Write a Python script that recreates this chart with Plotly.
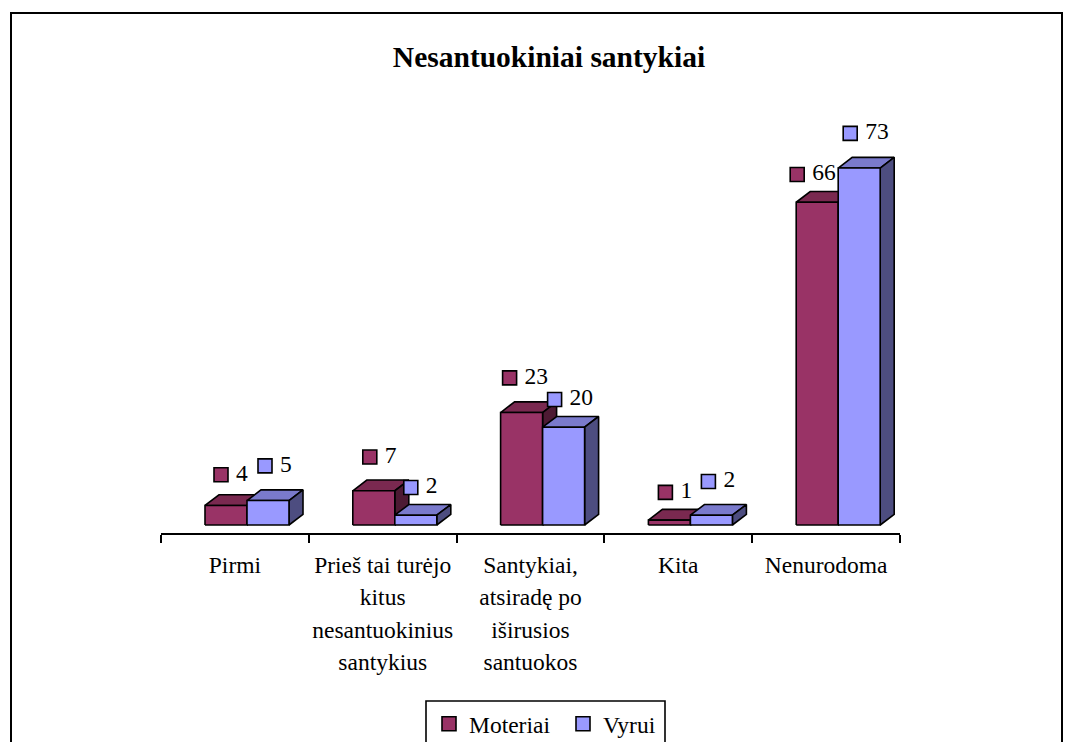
import plotly.graph_objects as go

title = "Nesantuokiniai santykiai"
categories = [
    "Pirmi",
    "Prieš tai turėjo<br>kitus<br>nesantuokinius<br>santykius",
    "Santykiai,<br>atsiradę po<br>iširusios<br>santuokos",
    "Kita",
    "Nenurodoma",
]
moteriai = [4, 7, 23, 1, 66]
vyrui = [5, 2, 20, 2, 73]

# label nudges in pixels, from the bar's left edge / back top edge
moteriai_dx = [16, 17, 9, 17, 1]
moteriai_dy = [20, 23, 24, 17, 17]
vyrui_dx = [18, 16, 12, 18, 12]
vyrui_dy = [24, 17, 17, 23, 24]

FONT = "Liberation Serif"
TEXT_SIZE = 23.5
INK = "#000000"
WIDTH, HEIGHT = 1074, 742
LEFT, RIGHT, TOP, AXIS_Y, BASE_Y = 161, 900, 100, 533, 525
CAT_PX = (RIGHT - LEFT) / 5
VAL_PX = 4.89
BAR_W = 42 / CAT_PX
BAR_START = 44 / CAT_PX
DEPTH_X = 14 / CAT_PX
DEPTH_Y = 10.7 / VAL_PX
LABEL_GAP = 15 / CAT_PX


def face(xs, ys, fill):
    return go.Scatter(
        x=xs + xs[:1], y=ys + ys[:1], mode="lines", fill="toself", fillcolor=fill,
        line=dict(color=INK, width=1.6), hoverinfo="skip", showlegend=False,
    )


def add_bars(fig, values, slot, front, top, side):
    for i, v in enumerate(values):
        x0 = i + BAR_START + slot * BAR_W
        x1 = x0 + BAR_W
        fig.add_trace(face([x0, x1, x1 + DEPTH_X, x0 + DEPTH_X], [v, v, v + DEPTH_Y, v + DEPTH_Y], top))
        fig.add_trace(face([x1, x1 + DEPTH_X, x1 + DEPTH_X, x1], [0, DEPTH_Y, v + DEPTH_Y, v], side))
        fig.add_trace(face([x0, x1, x1, x0], [0, 0, v, v], front))


def add_labels(fig, values, slot, dx, dy, color):
    xs = [i + BAR_START + slot * BAR_W + d / CAT_PX for i, d in enumerate(dx)]
    ys = [v + DEPTH_Y + d / VAL_PX for v, d in zip(values, dy)]
    fig.add_trace(go.Scatter(
        x=xs, y=ys, mode="markers",
        marker=dict(symbol="square", size=14, color=color, line=dict(color=INK, width=1.6)),
        hoverinfo="skip", showlegend=False, cliponaxis=False,
    ))
    fig.add_trace(go.Scatter(
        x=[x + LABEL_GAP for x in xs], y=ys, mode="text", text=[str(v) for v in values],
        textposition="middle right", textfont=dict(family=FONT, size=TEXT_SIZE, color=INK),
        hoverinfo="skip", showlegend=False, cliponaxis=False,
    ))


def legend_key(name, color):
    return go.Scatter(
        x=[None], y=[None], mode="markers", name=name,
        marker=dict(symbol="square", size=14, color=color, line=dict(color=INK, width=1.6)),
    )


fig = go.Figure()
add_bars(fig, moteriai, 0, "#993366", "#7A2950", "#4D1A33")
add_bars(fig, vyrui, 1, "#9999FF", "#7A7ACC", "#4D4D80")
add_labels(fig, moteriai, 0, moteriai_dx, moteriai_dy, "#993366")
add_labels(fig, vyrui, 1, vyrui_dx, vyrui_dy, "#9999FF")
fig.add_trace(legend_key("Moteriai", "#993366"))
fig.add_trace(legend_key("Vyrui", "#9999FF"))

# tick font is larger than the span inside it so the lines sit further apart
tick_labels = [f'<span style="font-size:{TEXT_SIZE}px">{c}</span>' for c in categories]

fig.update_layout(
    width=WIDTH, height=HEIGHT,
    margin=dict(l=LEFT, r=WIDTH - RIGHT, t=TOP, b=HEIGHT - AXIS_Y, autoexpand=False),
    paper_bgcolor="white", plot_bgcolor="white",
    font=dict(family=FONT, size=TEXT_SIZE, color=INK),
    title=dict(
        text="<b>" + title + "</b>", x=549 / WIDTH, y=1 - 57 / HEIGHT, xref="container", yref="container",
        xanchor="center", yanchor="middle", font=dict(family=FONT, size=29.5, color=INK),
    ),
    xaxis=dict(
        range=[0, 5], showgrid=False, zeroline=False, showline=True, linecolor=INK, linewidth=1.6,
        tickvals=[i + 0.5 for i in range(5)], ticktext=tick_labels, ticks="outside", ticklen=8,
        tickcolor="rgba(0,0,0,0)", tickfont=dict(family=FONT, size=25, color=INK),
        minor=dict(tickvals=list(range(6)), ticks="outside", ticklen=8, tickcolor=INK, tickwidth=1.6),
    ),
    yaxis=dict(
        range=[(BASE_Y - AXIS_Y) / VAL_PX, (BASE_Y - TOP) / VAL_PX],
        visible=False,
    ),
    legend=dict(
        orientation="h", x=563 / WIDTH, xref="container", xanchor="center", y=1 - 724 / HEIGHT, yref="container",
        yanchor="middle", entrywidth=89, font=dict(family=FONT, size=TEXT_SIZE, color=INK), bgcolor="rgba(0,0,0,0)",
    ),
    shapes=[
        # outer chart frame and legend box, both run past the bottom of the picture
        dict(type="rect", xref="paper", yref="paper",
             x0=(11 - LEFT) / (RIGHT - LEFT), x1=(1062 - LEFT) / (RIGHT - LEFT),
             y0=(AXIS_Y - 760) / (AXIS_Y - TOP), y1=(AXIS_Y - 13) / (AXIS_Y - TOP),
             line=dict(color=INK, width=2)),
        dict(type="rect", xref="paper", yref="paper",
             x0=(426 - LEFT) / (RIGHT - LEFT), x1=(665 - LEFT) / (RIGHT - LEFT),
             y0=(AXIS_Y - 760) / (AXIS_Y - TOP), y1=(AXIS_Y - 701) / (AXIS_Y - TOP),
             line=dict(color=INK, width=1.6)),
    ],
)

fig.write_html("out.html", config={"displayModeBar": False}, post_script="document.body.style.margin = 0;")
